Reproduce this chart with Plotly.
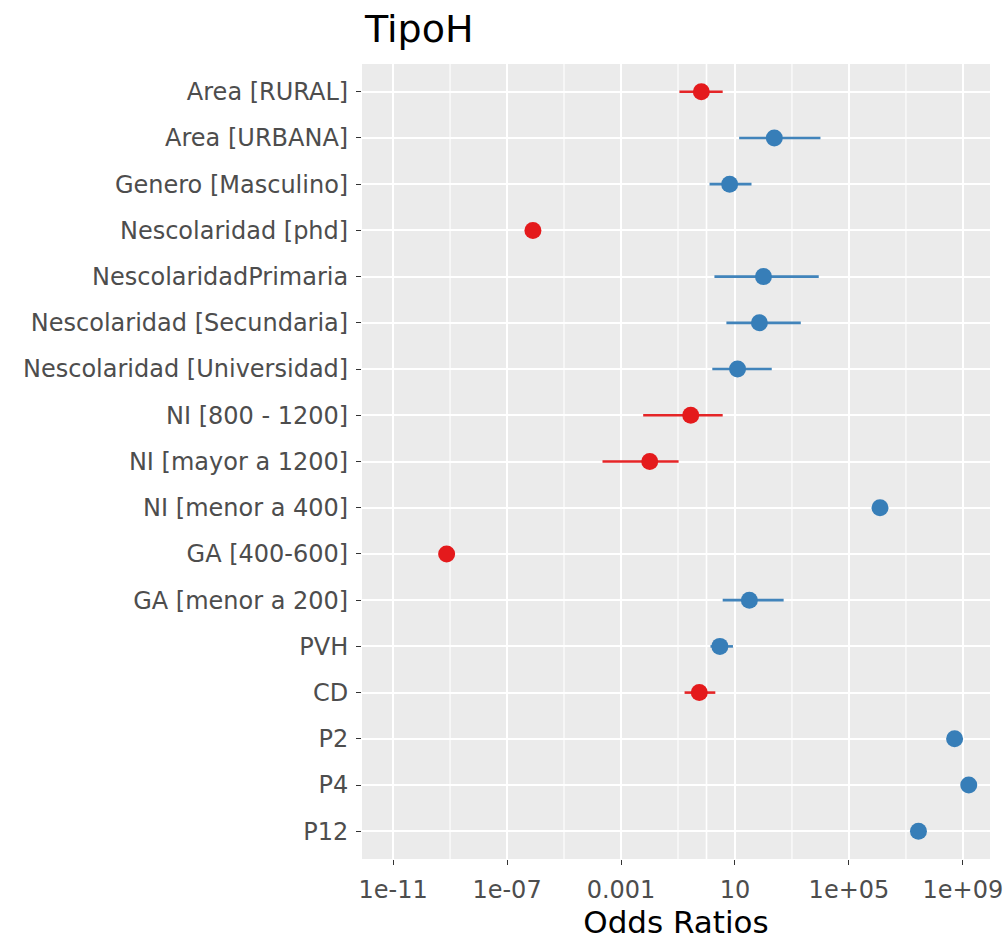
import plotly.graph_objects as go

terms = ["Area [RURAL]", "Area [URBANA]", "Genero [Masculino]", "Nescolaridad [phd]",
         "NescolaridadPrimaria", "Nescolaridad [Secundaria]", "Nescolaridad [Universidad]",
         "NI [800 - 1200]", "NI [mayor a 1200]", "NI [menor a 400]", "GA [400-600]",
         "GA [menor a 200]", "PVH", "CD", "P2", "P4", "P12"]
odds_ratio = [0.66, 240, 6.5, 8.1e-07, 100, 72, 12.3, 0.28, 0.0102, 1.23e+06, 7.6e-10,
              32, 2.95, 0.56, 5.1e+08, 1.6e+09, 2.75e+07]
conf_low = [0.112, 14, 1.28, None, 1.9, 5.0, 1.6, 0.006, 0.000224, None, None,
            3.7, 1.38, 0.17, None, None, None]
conf_high = [3.7, 10000, 38, None, 8700, 2040, 195, 3.7, 0.105, None, None,
             510, 8.5, 2.04, None, None, None]

x_tickvals = [1e-11, 1e-07, 1e-03, 10, 1e+05, 1e+09]
x_ticktext = ["1e-11", "1e-07", "0.001", "10", "1e+05", "1e+09"]
x_minorvals = [1e-09, 1e-05, 1e-01, 1e+03, 1e+07, 1]

RED = "#E41A1C"
BLUE = "#377EB8"
colors = [RED if v < 1 else BLUE for v in odds_ratio]

FONT = "DejaVu Sans, Liberation Sans, Arial, sans-serif"

fig = go.Figure()

for col in (RED, BLUE):
    xs, ys = [], []
    for t, v, lo, hi in zip(terms, odds_ratio, conf_low, conf_high):
        c = RED if v < 1 else BLUE
        if c != col or lo is None:
            continue
        xs += [lo, hi, None]
        ys += [t, t, None]
    fig.add_trace(go.Scatter(x=xs, y=ys, mode="lines",
                             line=dict(color=col, width=2.6),
                             opacity=0.95, showlegend=False, hoverinfo="skip"))

fig.add_trace(go.Scatter(x=odds_ratio, y=terms, mode="markers",
                         marker=dict(color=colors, size=17, line=dict(width=0)),
                         showlegend=False))

for mv in x_minorvals:
    fig.add_shape(type="line", xref="x", yref="paper", x0=mv, x1=mv, y0=0, y1=1,
                  line=dict(color="white", width=1.6 if mv == 1 else 1.1), layer="below")

fig.update_layout(
    width=1005, height=940,
    margin=dict(l=362, r=15, t=64, b=81, autoexpand=False),
    paper_bgcolor="white", plot_bgcolor="#EBEBEB",
    font=dict(family=FONT, size=22, color="#4D4D4D"),
    title=dict(text="TipoH", x=0.3632, xanchor="left", y=0.9691, yanchor="middle",
               xref="container", yref="container",
               font=dict(family=FONT, size=38, color="black")),
    xaxis=dict(type="log", range=[-12.09, 9.95], tickvals=x_tickvals, ticktext=x_ticktext,
               automargin=True, ticklabeloverflow="allow",
               showgrid=True, gridcolor="white", gridwidth=1.8, zeroline=False,
               ticks="outside", ticklen=5, tickcolor="#333333", tickwidth=1.2,
               ticklabelstandoff=4,
               tickfont=dict(family=FONT, size=24, color="#4D4D4D"),
               title=dict(text="Odds Ratios", font=dict(family=FONT, size=31, color="black"),
                          standoff=10),
               showline=False),
    yaxis=dict(type="category", categoryorder="array", categoryarray=terms,
               autorange=False, range=[16.6, -0.6], automargin=False,
               showgrid=True, gridcolor="white", gridwidth=1.8, zeroline=False,
               ticks="outside", ticklen=5, tickcolor="#333333", tickwidth=1.2,
               ticklabelstandoff=3,
               tickfont=dict(family=FONT, size=24, color="#4D4D4D"), showline=False),
)

fig.write_html("out.html", config={"displayModeBar": False},
               post_script="document.body.style.margin='0';document.body.style.overflow='hidden';")
